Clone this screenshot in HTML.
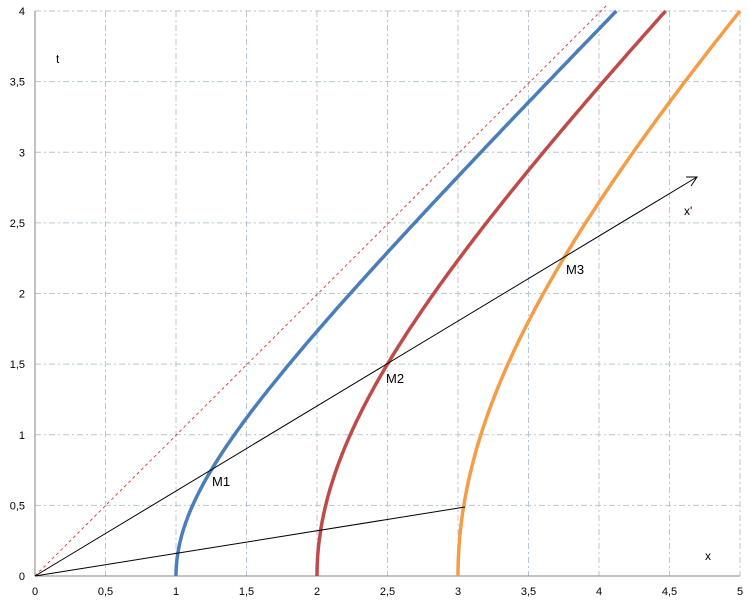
<!DOCTYPE html>
<html><head><meta charset="utf-8"><style>
html,body{margin:0;padding:0;background:#fff;}
svg{display:block;font-family:"Liberation Sans",sans-serif;}
</style></head><body>
<svg id="s" width="749" height="603" xmlns="http://www.w3.org/2000/svg">
<rect width="749" height="603" fill="#fff"/>
<g id="grid" stroke="#b9c6d6" stroke-width="1" stroke-dasharray="6,3,2,3"></g>
<line x1="35" y1="576" x2="740" y2="576" stroke="#868686"/>
<line x1="35" y1="11" x2="35" y2="576" stroke="#868686"/>
<g id="labels" font-size="11" fill="#000"></g>
<line x1="35" y1="576" x2="607" y2="5" stroke="#d9463e" stroke-width="1" stroke-dasharray="3,3"/>
<path id="c1" fill="none" stroke="#4a7ebb" stroke-width="3.5"/>
<path id="c2" fill="none" stroke="#be4b48" stroke-width="3.5"/>
<path id="c3" fill="none" stroke="#f59d46" stroke-width="3.5"/>
<line x1="35" y1="576" x2="697" y2="177" stroke="#000" stroke-width="1"/>
<polyline points="686,177 697,177 691,186" fill="none" stroke="#000" stroke-width="1"/>
<line x1="35" y1="576" x2="465" y2="507" stroke="#000" stroke-width="1"/>
<text x="212" y="486" font-size="13">M1</text>
<text x="386" y="383" font-size="13">M2</text>
<text x="566" y="274" font-size="13">M3</text>
<text x="684" y="215" font-size="12">x'</text>
<text x="56" y="63" font-size="12">t</text>
<text x="705" y="560" font-size="12">x</text>
</svg>
<script>
var X=function(x){return 35+141*x},Y=function(t){return 576-141.25*t};
var g=document.getElementById('grid'),L=document.getElementById('labels'),ns='http://www.w3.org/2000/svg';
function fmt(v){return (''+v).replace('.',',');}
for(var i=0;i<=10;i++){var v=i*0.5;
 if(i>0){var l=document.createElementNS(ns,'line');l.setAttribute('x1',X(v));l.setAttribute('x2',X(v));l.setAttribute('y1',11);l.setAttribute('y2',576);g.appendChild(l);}
 var t=document.createElementNS(ns,'text');t.setAttribute('x',X(v));t.setAttribute('y',595);t.setAttribute('text-anchor','middle');t.textContent=fmt(v);L.appendChild(t);}
for(var i=0;i<=8;i++){var v=i*0.5;
 if(i>0){var l=document.createElementNS(ns,'line');l.setAttribute('x1',35);l.setAttribute('x2',740);l.setAttribute('y1',Y(v));l.setAttribute('y2',Y(v));g.appendChild(l);}
 var t=document.createElementNS(ns,'text');t.setAttribute('x',25);t.setAttribute('y',Y(v)+4);t.setAttribute('text-anchor','end');t.textContent=fmt(v);L.appendChild(t);}
[1,2,3].forEach(function(a){var d='';for(var k=0;k<=200;k++){var t=4*k/200;var x=Math.sqrt(a*a+t*t);if(x>5){break;}d+=(k?'L':'M')+X(x).toFixed(1)+','+Y(t).toFixed(1);}
document.getElementById('c'+a).setAttribute('d',d);});
</script>
</body></html>
